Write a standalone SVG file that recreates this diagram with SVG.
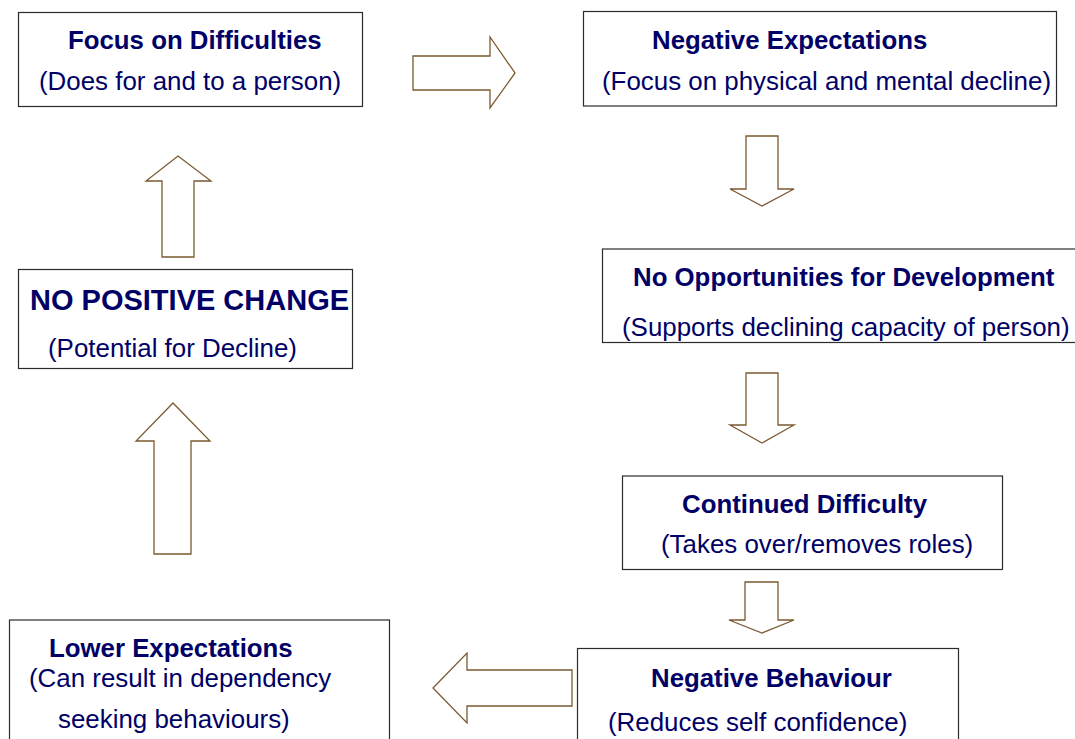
<svg xmlns="http://www.w3.org/2000/svg" width="1075" height="739" viewBox="0 0 1075 739">
<style>
.box{fill:#ffffff;stroke:#2b2b2b;stroke-width:1.2}
.arrow{fill:#ffffff;stroke:#7a5a30;stroke-width:1.3;stroke-linejoin:miter}
.t{font-family:"Liberation Sans",Arial,sans-serif;font-weight:bold;font-size:25.8px;fill:#000066}
.s{font-family:"Liberation Sans",Arial,sans-serif;font-size:25.9px;fill:#000066}
.big{font-size:29px}
</style>
<rect width="1075" height="739" fill="#ffffff"/>
<g id="connectors">
<polygon class="arrow" points="413,56 490,56 490,37 515,73 490,108 490,90 413,90"/>
<polygon class="arrow" points="746,136 778,136 778,189 794,189 762,206 730,189 746,189"/>
<polygon class="arrow" points="746,373 778,373 778,425 794,425 762,443 730,425 746,425"/>
<polygon class="arrow" points="745,582 778,582 778,620 794,620 762,633 729,620 745,620"/>
<polygon class="arrow" points="572,670 467,670 467,653 433,688 467,723 467,706 572,706"/>
<polygon class="arrow" points="162,257 194,257 194,181 211,181 178,156 146,181 162,181"/>
<polygon class="arrow" points="154,554 191,554 191,441 210,441 173,403 136,441 154,441"/>
</g>
<g id="focus">
<rect class="box" x="18.5" y="12.5" width="344" height="94"/>
<text class="t" x="68" y="49">Focus on Difficulties</text>
<text class="s" x="39" y="90">(Does for and to a person)</text>
</g>
<g id="negexp">
<rect class="box" x="583.5" y="11.5" width="473" height="94.5"/>
<text class="t" x="652" y="49">Negative Expectations</text>
<text class="s" x="602" y="90">(Focus on physical and mental decline)</text>
</g>
<g id="noopp">
<rect class="box" x="602.5" y="249" width="490" height="93.5"/>
<text class="t" x="633" y="285.5">No Opportunities for Development</text>
<text class="s" x="622" y="336">(Supports declining capacity of person)</text>
</g>
<g id="contdiff">
<rect class="box" x="622.5" y="476" width="380" height="93.5"/>
<text class="t" x="682" y="512.5">Continued Difficulty</text>
<text class="s" x="661" y="553">(Takes over/removes roles)</text>
</g>
<g id="negbeh">
<rect class="box" x="577.5" y="648.5" width="381" height="110"/>
<text class="t" x="651" y="687">Negative Behaviour</text>
<text class="s" x="608" y="731">(Reduces self confidence)</text>
</g>
<g id="lowexp">
<rect class="box" x="9.5" y="620" width="380" height="140"/>
<text class="t" x="49" y="657">Lower Expectations</text>
<text class="s" x="29" y="687">(Can result in dependency</text>
<text class="s" x="58" y="728">seeking behaviours)</text>
</g>
<g id="nochange">
<rect class="box" x="18.5" y="269.5" width="334" height="99"/>
<text class="t big" x="30" y="310">NO POSITIVE CHANGE</text>
<text class="s" x="48" y="357">(Potential for Decline)</text>
</g>
</svg>
